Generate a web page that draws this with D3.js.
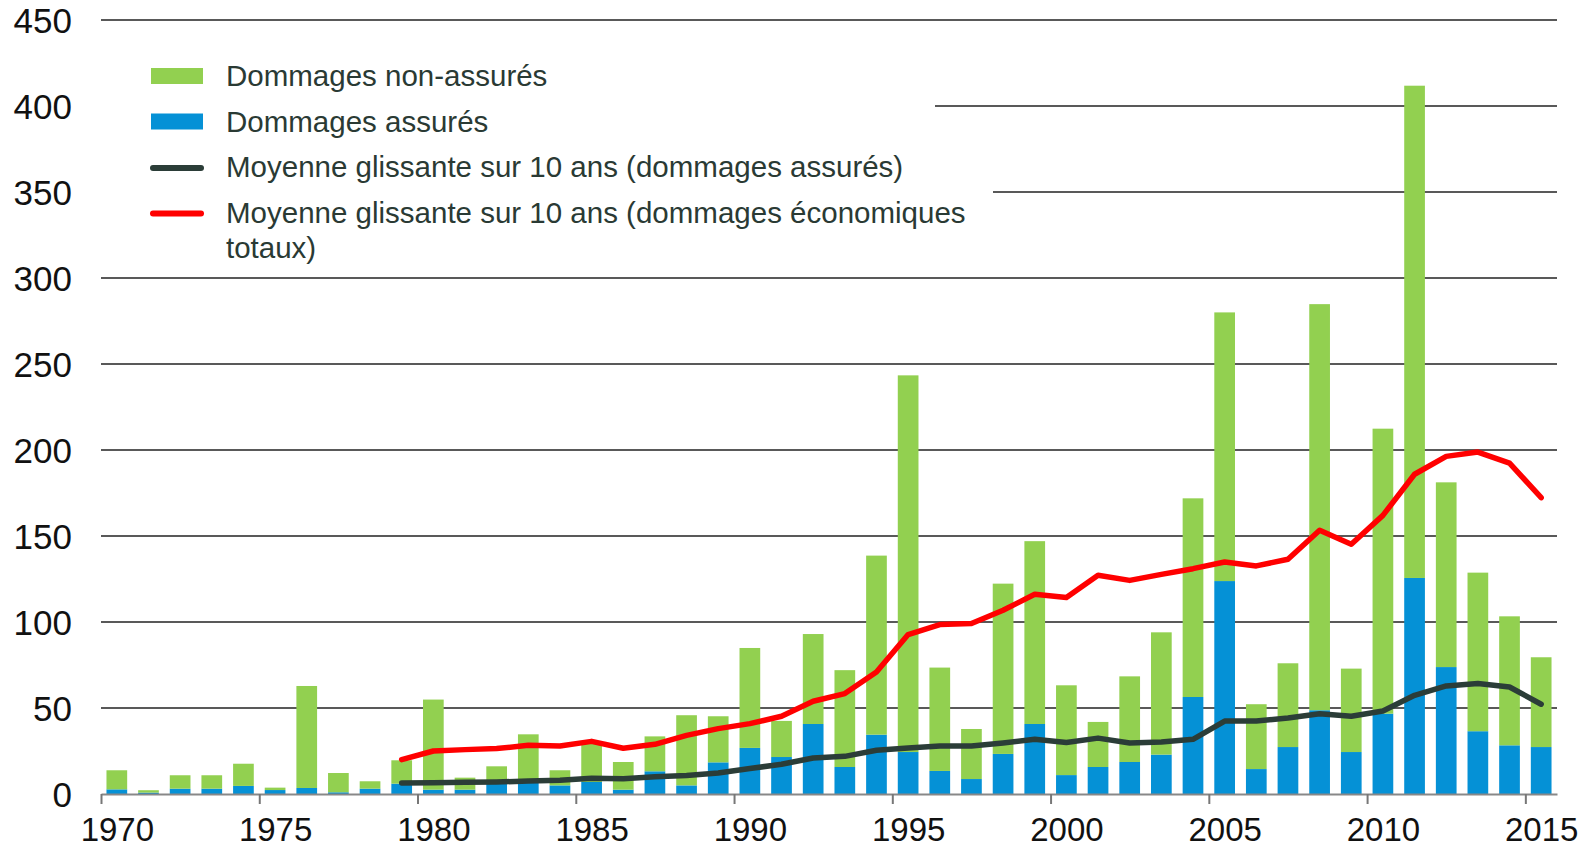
<!DOCTYPE html>
<html>
<head>
<meta charset="utf-8">
<script src="https://cdn.jsdelivr.net/npm/d3@7"></script>
<style>
  body { margin: 0; background: #fff; }
  svg { display: block; font-family: "Liberation Sans", Arial, sans-serif; }
</style>
</head>
<body>
<div id="chart"></div>
<script>
// Années (une barre par année)
const annees = [1970, 1971, 1972, 1973, 1974, 1975, 1976, 1977, 1978, 1979,
  1980, 1981, 1982, 1983, 1984, 1985, 1986, 1987, 1988, 1989,
  1990, 1991, 1992, 1993, 1994, 1995, 1996, 1997, 1998, 1999,
  2000, 2001, 2002, 2003, 2004, 2005, 2006, 2007, 2008, 2009,
  2010, 2011, 2012, 2013, 2014, 2015];

// Dommages totaux (hauteur de la barre empilée)
const dommagesTotaux = [13.8, 2.2, 10.9, 10.9, 17.6, 3.7, 62.8, 12.2, 7.4, 19.6,
  54.9, 9.5, 16.1, 34.7, 13.8, 29.3, 18.6, 33.5, 45.8, 45.2,
  84.9, 42.5, 93, 72, 138.6, 243.4, 73.5, 37.8, 122.3, 147,
  63.2, 41.9, 68.4, 94, 171.9, 280, 52.2, 76, 284.8, 72.9,
  212.4, 411.8, 181.2, 128.7, 103.3, 79.5];

// Dommages assurés (partie bleue)
const dommagesAssures = [2.7, 0.8, 3.1, 3.1, 4.7, 2.3, 3.5, 1, 3.1, 6,
  2.5, 2.5, 6, 6.4, 5, 7, 2.5, 13.2, 5, 18.4,
  26.8, 21.5, 40.7, 15.7, 34.5, 24.4, 13.4, 8.7, 23.3, 40.7,
  11, 15.7, 18.6, 22.9, 56.4, 123.8, 14.5, 27.3, 48.7, 24.4,
  46.7, 125.6, 73.8, 36.5, 28.3, 27.3];

// Moyennes glissantes sur 10 ans (à partir de 1979)
const anneesMoyenne = annees.slice(9);
const moyenneTotaux = [20, 25, 25.8, 26.4, 28.3, 27.9, 30.6, 26.6, 28.9, 34.1,
  38, 40.9, 45.2, 53.9, 58.4, 70.9, 92.7, 98.5, 99.1, 106.8,
  116.1, 114.2, 127.2, 124.2, 127.7, 131, 134.9, 132.6, 136.5, 153.3,
  145.2, 162, 185.9, 196.3, 198.8, 192.4, 172.3];
const moyenneAssures = [6.4, 6.6, 6.8, 7, 7.5, 8, 9.1, 8.9, 10, 10.7,
  12.2, 14.8, 17.3, 20.9, 21.9, 25.4, 26.8, 27.9, 27.9, 29.7,
  31.8, 29.9, 32.5, 29.7, 30.2, 31.8, 42.4, 42.4, 44.2, 46.7,
  45.2, 48.3, 57.4, 62.8, 64.2, 62.2, 52.2];

const ticksY = [0, 50, 100, 150, 200, 250, 300, 350, 400, 450];
const ticksX = [1970, 1975, 1980, 1985, 1990, 1995, 2000, 2005, 2010, 2015];

const libelles = [
  { type: "rect", couleur: "#92d050", texte: ["Dommages non-assurés"] },
  { type: "rect", couleur: "#0591d6", texte: ["Dommages assurés"] },
  { type: "line", couleur: "#2b3d38", texte: ["Moyenne glissante sur 10 ans (dommages assurés)"] },
  { type: "line", couleur: "#ff0000", texte: ["Moyenne glissante sur 10 ans (dommages économiques", "totaux)"] }
];

const width = 1593;
const height = 847;
const marge = { left: 101, right: 1557, top: 20, bottom: 794 };

const svg = d3.select("#chart").append("svg")
  .attr("width", width)
  .attr("height", height);

const xLin = d3.scaleLinear().domain([1970, 2016]).range([marge.left, marge.right]);
const x = d3.scaleBand().domain(annees).range([marge.left, marge.right])
  .paddingInner(0.346).paddingOuter(0.173);
const y = d3.scaleLinear().domain([0, 450]).range([marge.bottom, marge.top]);

// Grille horizontale
svg.append("g")
  .selectAll("line")
  .data(ticksY.filter(d => d > 0))
  .enter().append("line")
  .attr("x1", marge.left).attr("x2", marge.right)
  .attr("y1", d => y(d)).attr("y2", d => y(d))
  .attr("stroke", "#222").attr("stroke-width", 1.3);

// Étiquettes de l'axe Y
svg.append("g")
  .selectAll("text")
  .data(ticksY)
  .enter().append("text")
  .attr("x", 72)
  .attr("y", d => y(d))
  .attr("dy", "0.36em")
  .attr("text-anchor", "end")
  .attr("font-size", 35)
  .attr("fill", "#111")
  .text(d => d);

// Fond blanc derrière la légende
svg.append("rect").attr("x", marge.left).attr("y", 40).attr("width", 935 - marge.left).attr("height", 110).attr("fill", "#fff");
svg.append("rect").attr("x", marge.left).attr("y", 150).attr("width", 993 - marge.left).attr("height", 118).attr("fill", "#fff");

// Barres empilées
const barres = svg.append("g");
barres.selectAll(".assure")
  .data(annees)
  .enter().append("rect")
  .attr("class", "assure")
  .attr("x", d => x(d))
  .attr("width", x.bandwidth())
  .attr("y", (d, i) => y(dommagesAssures[i]))
  .attr("height", (d, i) => y(0) - y(dommagesAssures[i]))
  .attr("fill", "#0591d6");

barres.selectAll(".nonassure")
  .data(annees)
  .enter().append("rect")
  .attr("class", "nonassure")
  .attr("x", d => x(d))
  .attr("width", x.bandwidth())
  .attr("y", (d, i) => y(dommagesTotaux[i]))
  .attr("height", (d, i) => y(dommagesAssures[i]) - y(dommagesTotaux[i]))
  .attr("fill", "#92d050");

// Axe X
const xAxis = d3.axisBottom(xLin)
  .tickValues(ticksX)
  .tickSize(10)
  .tickSizeOuter(0)
  .tickFormat(d3.format("d"));

const gx = svg.append("g")
  .attr("transform", `translate(0,${marge.bottom})`)
  .call(xAxis);
gx.select(".domain").attr("stroke", "#888").attr("stroke-width", 2);
gx.selectAll(".tick line").attr("stroke", "#777").attr("stroke-width", 2);
gx.selectAll(".tick text")
  .attr("x", x.step() / 2)
  .attr("y", 47)
  .attr("dy", 0)
  .attr("font-size", 33)
  .attr("font-family", "Liberation Sans, Arial, sans-serif")
  .attr("fill", "#111");

// Moyennes glissantes
const ligne = d3.line()
  .x(d => x(d[0]) + x.bandwidth() / 2)
  .y(d => y(d[1]));

svg.append("path")
  .datum(anneesMoyenne.map((a, i) => [a, moyenneAssures[i]]))
  .attr("d", ligne)
  .attr("fill", "none")
  .attr("stroke", "#2b3d38")
  .attr("stroke-width", 5.5)
  .attr("stroke-linejoin", "round")
  .attr("stroke-linecap", "round");

svg.append("path")
  .datum(anneesMoyenne.map((a, i) => [a, moyenneTotaux[i]]))
  .attr("d", ligne)
  .attr("fill", "none")
  .attr("stroke", "#ff0000")
  .attr("stroke-width", 5.5)
  .attr("stroke-linejoin", "round")
  .attr("stroke-linecap", "round");

// Légende
const legende = svg.append("g")
  .selectAll("g")
  .data(libelles)
  .enter().append("g")
  .attr("transform", (d, i) => `translate(151,${86 + i * 45.5})`);

legende.filter(d => d.type === "rect").append("rect")
  .attr("x", 0).attr("y", -18)
  .attr("width", 52).attr("height", 16)
  .attr("fill", d => d.couleur);

legende.filter(d => d.type === "line").append("line")
  .attr("x1", 2).attr("x2", 50)
  .attr("y1", -9).attr("y2", -9)
  .attr("stroke", d => d.couleur)
  .attr("stroke-width", 6)
  .attr("stroke-linecap", "round");

legende.append("text")
  .attr("x", 75)
  .attr("font-size", 29.5)
  .attr("fill", "#2a3a34")
  .selectAll("tspan")
  .data(d => d.texte)
  .enter().append("tspan")
  .attr("x", 75)
  .attr("dy", (d, i) => i === 0 ? 0 : 35)
  .text(d => d);
</script>
</body>
</html>
